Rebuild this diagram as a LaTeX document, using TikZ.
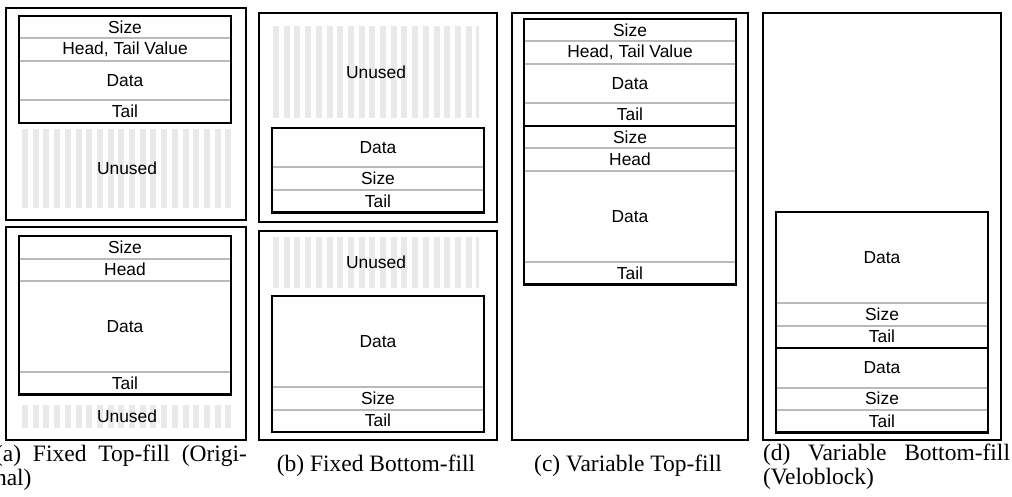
\documentclass[tikz,border=0pt]{standalone}
\usepackage{fontspec}
\setmainfont{Liberation Serif}
\newfontfamily\slotfont{Liberation Sans}
\usetikzlibrary{positioning}

\definecolor{sepgray}{RGB}{186,186,186}
\definecolor{stripegray}{RGB}{233,233,233}

\begin{document}
\begin{tikzpicture}[
                        x=1pt,
                        y=-1pt,
                        node distance=0pt,
                        every node/.style={inner sep=0pt, outer sep=0pt}
                    ]
                    \tikzstyle{panel}=[draw=black, line width=2pt, minimum width=238pt, anchor=north west]
                    \tikzstyle{slot}=[minimum width=212pt, minimum height=22.5pt, font=\slotfont\fontsize{17.4}{20}\selectfont]
                    \tikzstyle{dataslot}=[slot, minimum height=39.5pt]
                    \tikzstyle{bigslot}=[slot, minimum height=91pt]
                    \tikzstyle{sep}=[draw=sepgray, line width=2pt]
                    \tikzstyle{block}=[draw=black, line width=2.4pt]
                    \tikzstyle{unused}=[anchor=north west, font=\slotfont\fontsize{17.4}{20}\selectfont,
                        path picture={
                            \foreach \k in {0,...,19}
                                \fill[stripegray] ([xshift=\k*10.7pt]path picture bounding box.south west)
                                    rectangle ([xshift=\k*10.7pt+6pt]path picture bounding box.north west);
                        }]
                    \tikzstyle{subcap}=[font=\fontsize{23.5}{24}\selectfont]

                    \useasboundingbox (0,0) rectangle (1012,497);

                    % outer frames
                    \node[panel, minimum width=240pt, minimum height=212pt] (pa1) at (6,8)   {};
                    \node[panel, minimum width=240pt, minimum height=213pt] (pa2) at (6,227) {};
                    \node[panel, minimum height=209pt] (pb1) at (259,13)  {};
                    \node[panel, minimum height=209pt] (pb2) at (259,231) {};
                    \node[panel, minimum width=236pt, minimum height=427pt] (pc) at (512,13) {};
                    \node[panel, minimum height=427pt] (pd) at (763,13) {};

                    % free space
                    \node[unused, minimum width=210pt, minimum height=79pt] (ua1) at (22,129)  {Unused};
                    \node[unused, minimum width=210pt, minimum height=23pt] (ua2) at (22,405)  {Unused};
                    \node[unused, minimum width=206pt, minimum height=92pt] (ub1) at (273,26)  {Unused};
                    \node[unused, minimum width=206pt, minimum height=51pt] (ub2) at (273,237) {Unused};

                    % (a) fixed top-fill
                    \node[slot, anchor=north west] (a1) at (19,16) {Size};
                    \node[slot]     (a2) [below=of a1] {Head, Tail Value};
                    \node[dataslot] (a3) [below=of a2] {Data};
                    \node[slot]     (a4) [below=of a3] {Tail};
                    \node[slot, anchor=north west] (a5) at (19,236) {Size};
                    \node[slot]     (a6) [below=of a5] {Head};
                    \node[bigslot]  (a7) [below=of a6] {Data};
                    \node[slot]     (a8) [below=of a7] {Tail};

                    % (b) fixed bottom-fill
                    \node[dataslot, anchor=north west] (b1) at (272,128) {Data};
                    \node[slot]     (b2) [below=of b1] {Size};
                    \node[slot]     (b3) [below=of b2] {Tail};
                    \node[bigslot, anchor=north west] (b4) at (272,296) {Data};
                    \node[slot]     (b5) [below=of b4] {Size};
                    \node[slot]     (b6) [below=of b5] {Tail};

                    % (c) variable top-fill
                    \node[slot, anchor=north west] (c1) at (524,19) {Size};
                    \node[slot]     (c2) [below=of c1] {Head, Tail Value};
                    \node[dataslot] (c3) [below=of c2] {Data};
                    \node[slot]     (c4) [below=of c3] {Tail};
                    \node[slot]     (c5) [below=of c4] {Size};
                    \node[slot]     (c6) [below=of c5] {Head};
                    \node[bigslot]  (c7) [below=of c6] {Data};
                    \node[slot]     (c8) [below=of c7] {Tail};

                    % (d) variable bottom-fill
                    \node[bigslot, anchor=north west] (d1) at (776,212) {Data};
                    \node[slot]     (d2) [below=of d1] {Size};
                    \node[slot]     (d3) [below=of d2] {Tail};
                    \node[dataslot] (d4) [below=of d3] {Data};
                    \node[slot]     (d5) [below=of d4] {Size};
                    \node[slot]     (d6) [below=of d5] {Tail};

                    \foreach \s in {a1,a2,a3,a5,a6,a7,b1,b2,b4,b5,c1,c2,c3,c5,c6,c7,d1,d2,d4,d5}
                        \draw[sep] (\s.south west) -- (\s.south east);

                    \draw[block] (a1.north west) rectangle (a4.south east);
                    \draw[block] (a5.north west) rectangle (a8.south east);
                    \draw[block] (b1.north west) rectangle (b3.south east);
                    \draw[block] (b4.north west) rectangle (b6.south east);
                    \draw[block] (c1.north west) rectangle (c4.south east);
                    \draw[block] (c5.north west) rectangle (c8.south east);
                    \draw[block] (d1.north west) rectangle (d3.south east);
                    \draw[block] (d4.north west) rectangle (d6.south east);

                    % sub-captions
                    \node[subcap, text width=252pt, align=justify, anchor=base west] (capa) at (-5,461)
                        {(a) Fixed Top-fill (Origi-\linebreak nal)};
                    \node[subcap, anchor=base] (capb) at (376,471) {(b) Fixed Bottom-fill};
                    \node[subcap, anchor=base] (capc) at (628,471) {(c) Variable Top-fill};
                    \node[subcap, text width=247pt, align=justify, anchor=base west] (capd) at (763,460)
                        {(d) Variable Bottom-fill\linebreak (Veloblock)};
\end{tikzpicture}
\end{document}
